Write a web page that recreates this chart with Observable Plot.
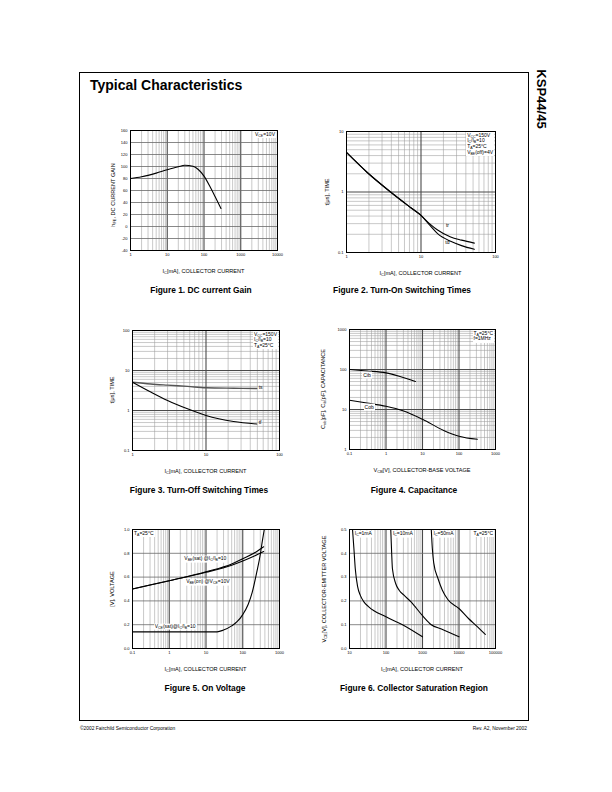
<!DOCTYPE html>
<html><head><meta charset="utf-8">
<script src="https://cdn.jsdelivr.net/npm/d3@7"></script>
<script src="https://cdn.jsdelivr.net/npm/@observablehq/plot@0.6"></script>
<style>
body{margin:0;background:#fff;}
#page{position:relative;width:612px;height:792px;font-family:"Liberation Sans",Arial,Helvetica,sans-serif;color:#000;overflow:hidden;background:#fff;}
.abs{position:absolute;white-space:nowrap;line-height:1.15;}
sub{font-size:70%;vertical-align:-0.3em;line-height:0;}
.box{background:#fff;padding:0.5px 1px;}
</style></head><body><div id="page"></div>
<script>
// ---------------- DATA ----------------
// Figure 1: DC current gain
const fig1Ic  = [1, 2, 5, 10, 20, 30, 50, 70, 100, 150, 200, 290];
const fig1Hfe = [80, 83, 89, 94.5, 99.5, 102, 100.5, 95, 84, 65, 50, 30];
const fig1XTicks = [1, 10, 100, 1000, 10000];
const fig1YTicks = [-40, -20, 0, 20, 40, 60, 80, 100, 120, 140, 160];

// Figure 2: turn-on switching times
const fig2Ic = [1, 1.9, 3.9, 7.3, 10, 13, 16.7, 25, 35, 52];
const fig2Tr = [4.5, 2.1, 1.0, 0.55, 0.41, 0.3, 0.235, 0.18, 0.16, 0.143];
const fig2Td = [4.5, 2.1, 1.0, 0.55, 0.41, 0.285, 0.205, 0.153, 0.13, 0.113];
const fig2XTicks = [1, 10, 100];
const fig2YTicks = [0.1, 1, 10];

// Figure 3: turn-off switching times
const fig3Ic = [1, 1.77, 3, 5.6, 10, 23.7, 49];
const fig3Ts = [5.1, 4.6, 4.3, 4.0, 3.7, 3.6, 3.55];
const fig3Tf = [5.1, 2.9, 1.78, 1.1, 0.75, 0.53, 0.46];
const fig3XTicks = [1, 10, 100];
const fig3YTicks = [0.1, 1, 10, 100];

// Figure 4: capacitance
const fig4CibV = [0.1, 0.3, 1, 2.3, 4, 6.4];
const fig4Cib  = [100, 92, 82.5, 68, 58, 50];
const fig4CobV = [0.1, 0.3, 1, 2.9, 10, 38, 100, 320];
const fig4Cob  = [17, 14.5, 12, 9.3, 5.7, 3.0, 2.15, 1.8];
const fig4XTicks = [0.1, 1, 10, 100, 1000];
const fig4YTicks = [1, 10, 100, 1000];

// Figure 5: on voltage
const fig5Ic      = [0.1, 1, 10, 50, 100, 200, 370];
const fig5VbeSat  = [0.5, 0.57, 0.645, 0.71, 0.755, 0.80, 0.855];
const fig5VbeOn   = [0.5, 0.57, 0.64, 0.70, 0.735, 0.775, 0.815];
const fig5VceIc   = [0.1, 1, 10, 20, 30, 50, 70, 100, 140, 180, 240, 300, 340, 385];
const fig5VceSat  = [0.14, 0.14, 0.14, 0.14, 0.155, 0.19, 0.225, 0.285, 0.37, 0.47, 0.64, 0.79, 0.9, 1.0];
const fig5XTicks = [0.1, 1, 10, 100, 1000];
const fig5YTicks = [0, 0.2, 0.4, 0.6, 0.8, 1.0];

// Figure 6: collector saturation region
const fig6Ib1  = [12.1, 13.2, 14.4, 16.7, 19.8, 24.5, 33.7, 100, 283, 1000];
const fig6V1   = [0.5, 0.42, 0.335, 0.26, 0.223, 0.197, 0.175, 0.133, 0.1, 0.049];
const fig6Ib10 = [135, 143, 150, 185, 229, 316, 484, 1000, 1740, 3300, 10000];
const fig6V10  = [0.5, 0.4, 0.335, 0.272, 0.245, 0.223, 0.196, 0.138, 0.1, 0.082, 0.049];
const fig6Ib50 = [1740, 1860, 2030, 2670, 3500, 5000, 10000, 18200, 30000, 52500];
const fig6V50  = [0.5, 0.42, 0.36, 0.293, 0.245, 0.205, 0.168, 0.126, 0.095, 0.059];
const fig6XTicks = [10, 100, 1000, 10000, 100000];
const fig6YTicks = [0, 0.1, 0.2, 0.3, 0.4, 0.5];

// ---------------- HELPERS ----------------
const FONT = '"Liberation Sans", Arial, Helvetica, sans-serif';
const page = document.getElementById("page");

function logMinors(lo, hi) {
  const out = [];
  for (let e = Math.floor(Math.log10(lo)) - 1; e <= Math.ceil(Math.log10(hi)); e++)
    for (let k = 2; k <= 9; k++) { const v = +(k * Math.pow(10, e)).toPrecision(3); if (v > lo && v < hi) out.push(v); }
  return out;
}
function logMajors(lo, hi) {
  const out = [];
  for (let e = Math.floor(Math.log10(lo)); e <= Math.ceil(Math.log10(hi)); e++) { const v = +Math.pow(10, e).toPrecision(3); if (v > lo * 1.0001 && v < hi / 1.0001) out.push(v); }
  return out;
}
function pts(xs, ys) { return xs.map((x, i) => ({x, y: ys[i]})); }

function addDiv(html, x, y, o = {}) {
  const d = document.createElement("div");
  d.className = "abs" + (o.box ? " box" : "");
  d.innerHTML = html;
  d.style.left = x + "px"; d.style.top = y + "px";
  d.style.fontSize = (o.size || 5) + "px";
  if (o.bold) d.style.fontWeight = "bold";
  if (o.transform) d.style.transform = o.transform;
  if (o.align) d.style.textAlign = o.align;
  page.appendChild(d);
  return d;
}

const ML = 24, MR = 4, MT = 4, MB = 14;
function drawChart(cfg) {
  const [x0, x1] = cfg.xDomain, [y0, y1] = cfg.yDomain;
  const xMinor = logMinors(x0, x1), xMajor = logMajors(x0, x1);
  let yMinor = [], yMajor = [];
  if (cfg.yLog) { yMinor = logMinors(y0, y1); yMajor = logMajors(y0, y1); }
  else { yMajor = cfg.yGrid; }
  const w = cfg.right - cfg.left, h = cfg.bottom - cfg.top;
  const plot = Plot.plot({
    width: w + ML + MR, height: h + MT + MB,
    marginLeft: ML, marginRight: MR, marginTop: MT, marginBottom: MB,
    style: {fontFamily: FONT, fontSize: "4px", background: "transparent", overflow: "visible", color: "#000"},
    x: {type: "log", domain: cfg.xDomain, label: null},
    y: cfg.yLog ? {type: "log", domain: cfg.yDomain, label: null} : {type: "linear", domain: cfg.yDomain, label: null},
    marks: [
      Plot.ruleX(xMinor, {stroke: "#9c9c9c", strokeWidth: 0.55}),
      Plot.ruleY(yMinor, {stroke: "#9c9c9c", strokeWidth: 0.55}),
      Plot.ruleX(xMajor, {stroke: "#4a4a4a", strokeWidth: 1.1}),
      Plot.ruleY(yMajor, {stroke: cfg.yLog ? "#4a4a4a" : "#6a6a6a", strokeWidth: cfg.yLog ? 1.1 : 0.8}),
      ...cfg.lines.map(s => Plot.line(pts(s.x, s.y), {x: "x", y: "y", stroke: s.color || "#000", strokeWidth: s.width || 1.1, curve: "monotone-x", clip: true})),
      Plot.frame({stroke: "#000", strokeWidth: 1}),
      Plot.axisX(cfg.xTicks, {tickSize: 0, tickPadding: 3, tickFormat: cfg.xFmt || (d => String(d)), fontSize: 4, label: null}),
      Plot.axisY(cfg.yTicks, {tickSize: 0, tickPadding: 3, tickFormat: cfg.yFmt || (d => String(d)), fontSize: 4, label: null})
    ]
  });
  const ox = cfg.left - ML, oy = cfg.top - MT;
  plot.style.position = "absolute";
  plot.style.left = ox + "px"; plot.style.top = oy + "px";
  page.appendChild(plot);
  const sx = plot.scale("x"), sy = plot.scale("y");
  const px = v => ox + sx.apply(v), py = v => oy + sy.apply(v);
  // axis titles
  addDiv(cfg.xTitle, (cfg.left + cfg.right) / 2, cfg.bottom + 20.5, {size: 5.6, transform: "translate(-50%,-50%)"});
  addDiv(cfg.yTitle, cfg.left - cfg.yTitleOff, (cfg.top + cfg.bottom) / 2 + (cfg.yTitleDy || 0), {size: 5.6, transform: "translate(-50%,-50%) rotate(-90deg)"});
  addDiv(cfg.caption, cfg.captionX, cfg.captionY, {size: 8.4, bold: true, transform: "translate(-50%,-50%)"});
  return {px, py, cfg};
}
function cornerBox(ch, html, where) {
  const c = ch.cfg;
  const d = addDiv(html, 0, 0, {box: true, size: 5});
  if (where === "tl") { d.style.left = (c.left + 1) + "px"; }
  else { d.style.left = "auto"; d.style.right = (612 - c.right + 1) + "px"; }
  d.style.top = (c.top + 1) + "px";
  return d;
}
function dataLabel(ch, html, xv, yv, o = {}) {
  const tr = o.center ? "translate(-50%,-50%)" : "translate(0,-50%)";
  return addDiv(html, ch.px(xv), ch.py(yv), {size: o.size || 5, box: o.box, transform: tr});
}

// ---------------- PAGE FRAME ----------------
const frame = document.createElement("div");
frame.style.cssText = "position:absolute;left:79px;top:72px;width:448px;height:647px;border:1.2px solid #000;";
page.appendChild(frame);
addDiv("Typical Characteristics", 90, 85, {size: 14, bold: true, transform: "translate(0,-50%)"});
addDiv("KSP44/45", 541, 99, {size: 13, bold: true, transform: "translate(-50%,-50%) rotate(90deg)"});
addDiv("©2002 Fairchild Semiconductor Corporation", 80, 729, {size: 4.9, transform: "translate(0,-50%)"});
addDiv("Rev. A2, November 2002", 527, 729, {size: 4.9, transform: "translate(-100%,-50%)"});

// ---------------- CHARTS ----------------
const c1 = drawChart({
  left: 130, right: 277, top: 130, bottom: 250,
  xDomain: [1, 10000], yDomain: [-40, 160], yLog: false, yGrid: fig1YTicks,
  xTicks: fig1XTicks, yTicks: fig1YTicks,
  lines: [{x: fig1Ic, y: fig1Hfe}],
  xTitle: "I<sub>C</sub>[mA], COLLECTOR CURRENT",
  yTitle: "h<sub>FE</sub>, DC CURRENT GAIN", yTitleOff: 17.5, yTitleDy: 5,
  caption: "Figure 1. DC current Gain", captionX: 201, captionY: 291
});
cornerBox(c1, "V<sub>CE</sub>=10V");

const c2 = drawChart({
  left: 346, right: 495, top: 131, bottom: 252,
  xDomain: [1, 100], yDomain: [0.1, 10], yLog: true,
  xTicks: fig2XTicks, yTicks: fig2YTicks,
  lines: [{x: fig2Ic, y: fig2Tr}, {x: fig2Ic, y: fig2Td}],
  xTitle: "I<sub>C</sub>[mA], COLLECTOR CURRENT",
  yTitle: "t[μs], TIME", yTitleOff: 19,
  caption: "Figure 2. Turn-On Switching Times", captionX: 402, captionY: 291
});
cornerBox(c2, "V<sub>CC</sub>=150V<br>I<sub>C</sub>/I<sub>B</sub>=10<br>T<sub>A</sub>=25°C<br>V<sub>BE</sub>(off)=4V");
dataLabel(c2, "tr", 23, 0.27, {center: true});
dataLabel(c2, "td", 23, 0.14, {center: true});

const c3 = drawChart({
  left: 132, right: 279, top: 330, bottom: 450,
  xDomain: [1, 100], yDomain: [0.1, 100], yLog: true,
  xTicks: fig3XTicks, yTicks: fig3YTicks,
  lines: [{x: fig3Ic, y: fig3Ts, color: "#555", width: 1.4}, {x: fig3Ic, y: fig3Tf}],
  xTitle: "I<sub>C</sub>[mA], COLLECTOR CURRENT",
  yTitle: "t[μs], TIME", yTitleOff: 20,
  caption: "Figure 3. Turn-Off Switching Times", captionX: 199, captionY: 491
});
cornerBox(c3, "V<sub>CC</sub>=150V<br>I<sub>C</sub>/I<sub>B</sub>=10<br>T<sub>A</sub>=25°C");
dataLabel(c3, "ts", 53, 3.55);
dataLabel(c3, "tf", 53, 0.46);

const c4 = drawChart({
  left: 349, right: 495, top: 329, bottom: 449,
  xDomain: [0.1, 1000], yDomain: [1, 1000], yLog: true,
  xTicks: fig4XTicks, yTicks: fig4YTicks,
  lines: [{x: fig4CibV, y: fig4Cib}, {x: fig4CobV, y: fig4Cob}],
  xTitle: "V<sub>CB</sub>[V], COLLECTOR-BASE VOLTAGE",
  yTitle: "C<sub>ob</sub>[pF], C<sub>ib</sub>[pF], CAPACITANCE", yTitleOff: 26,
  caption: "Figure 4. Capacitance", captionX: 414, captionY: 491
});
cornerBox(c4, "T<sub>A</sub>=25°C<br>f=1MHz");
dataLabel(c4, "Cib", 0.23, 70, {box: true});
dataLabel(c4, "Cob", 0.25, 11.2, {box: true});

const c5 = drawChart({
  left: 132, right: 279, top: 529, bottom: 648,
  xDomain: [0.1, 1000], yDomain: [0, 1.0], yLog: false, yGrid: fig5YTicks,
  xTicks: fig5XTicks, yTicks: fig5YTicks, yFmt: d3.format(".1f"),
  lines: [{x: fig5Ic, y: fig5VbeSat}, {x: fig5Ic, y: fig5VbeOn}, {x: fig5VceIc, y: fig5VceSat}],
  xTitle: "I<sub>C</sub>[mA], COLLECTOR CURRENT",
  yTitle: "[V], VOLTAGE", yTitleOff: 20,
  caption: "Figure 5. On Voltage", captionX: 205, captionY: 689
});
cornerBox(c5, "T<sub>A</sub>=25°C", "tl");
dataLabel(c5, "V<sub>BE</sub>(sat) @I<sub>C</sub>/I<sub>B</sub>=10", 2.5, 0.75, {box: true});
dataLabel(c5, "V<sub>BE</sub>(on) @V<sub>CE</sub>=10V", 2.8, 0.555, {box: true});
dataLabel(c5, "V<sub>CE</sub>(sat)@I<sub>C</sub>/I<sub>B</sub>=10", 0.39, 0.18, {box: true});

const c6 = drawChart({
  left: 349, right: 495, top: 529, bottom: 648,
  xDomain: [10, 100000], yDomain: [0, 0.5], yLog: false, yGrid: fig6YTicks,
  xTicks: fig6XTicks, yTicks: fig6YTicks, yFmt: d3.format(".1f"),
  lines: [{x: fig6Ib1, y: fig6V1}, {x: fig6Ib10, y: fig6V10}, {x: fig6Ib50, y: fig6V50}],
  xTitle: "I<sub>C</sub>[mA], COLLECTOR CURRENT",
  yTitle: "V<sub>CE</sub>[V], COLLECTOR-EMITTER VOLTAGE", yTitleOff: 25,
  caption: "Figure 6. Collector Saturation Region", captionX: 414, captionY: 689
});
cornerBox(c6, "T<sub>A</sub>=25°C");
dataLabel(c6, "I<sub>C</sub>=1mA", 13.5, 0.48, {box: true});
dataLabel(c6, "I<sub>C</sub>=10mA", 150, 0.48, {box: true});
dataLabel(c6, "I<sub>C</sub>=50mA", 1950, 0.48, {box: true});
</script></body></html>
